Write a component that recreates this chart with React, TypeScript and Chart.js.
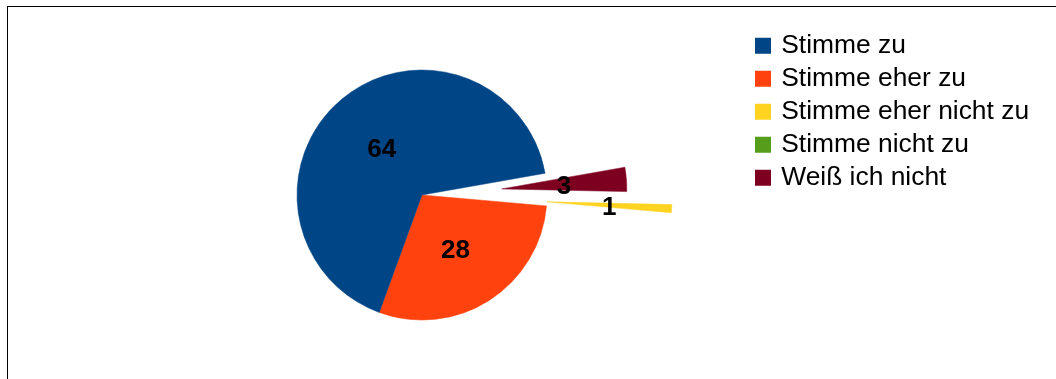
import React, { useEffect, useRef } from "react";
import { Chart, ArcElement, PieController, Legend } from "chart.js";

Chart.register(ArcElement, PieController, Legend);

// ---- data ----
const categories = [
  "Stimme zu",
  "Stimme eher zu",
  "Stimme eher nicht zu",
  "Stimme nicht zu",
  "Weiß ich nicht",
];
const values = [64, 28, 1, 0, 3];

// ---- styles ----
const colors = ["#004586", "#ff420e", "#ffd320", "#579d1c", "#7e0021"];
const explode = [0, 0, 1.0, 0, 0.64]; // fraction of radius a slice is pulled out

const W = 1056;
const H = 379;
const FONT = "'Liberation Sans', Arial, sans-serif";
const legendFontSize = 26.4;
const legendBox = 10; // fill size; a 6px stroke makes it 16px visually
const legendStroke = 6;
const legendPad = 6.6;
const legendItemX = 758;
const pieCenterX = 422;
const pieRadius = 125;

const explodePlugin = {
  id: "explodeSlices",
  afterDatasetsUpdate(chart: any) {
    const meta = chart.getDatasetMeta(0);
    const ex = chart.data.datasets[0].explode || [];
    meta.data.forEach((arc: any, i: number) => {
      const f = ex[i];
      if (!f) return;
      const mid = (arc.startAngle + arc.endAngle) / 2;
      const d = f * arc.outerRadius;
      arc.x += Math.cos(mid) * d;
      arc.y += Math.sin(mid) * d;
    });
  },
};

const valueLabels = {
  id: "valueLabels",
  afterDatasetsDraw(chart: any) {
    const ctx = chart.ctx;
    const meta = chart.getDatasetMeta(0);
    const data = chart.data.datasets[0].data;
    ctx.save();
    ctx.font = `bold 26px ${FONT}`;
    ctx.fillStyle = "#000";
    ctx.textAlign = "center";
    ctx.textBaseline = "alphabetic";
    meta.data.forEach((arc: any, i: number) => {
      const v = data[i];
      if (!v) return;
      const p = arc.getCenterPoint();
      ctx.fillText(String(v), p.x, p.y + 10);
    });
    ctx.restore();
  },
};

export default function App() {
  const ref = useRef<HTMLCanvasElement | null>(null);

  useEffect(() => {
    if (!ref.current) return;
    const m = document.createElement("canvas").getContext("2d")!;
    m.font = `${legendFontSize}px ${FONT}`;
    const textW = Math.max(...categories.map((c) => m.measureText(c).width));
    const legendWidth = legendPad + legendBox + legendFontSize / 2 + textW + 10;
    const legendLeft = legendItemX - legendPad;
    const padRight = W - legendLeft - legendWidth;
    const padLeft = 2 * pieCenterX - legendLeft;

    // Chart.js draws clockwise; the reference runs counter-clockwise, so reverse.
    const rLabels = [...categories].reverse();
    const rValues = [...values].reverse();
    const rColors = [...colors].reverse();
    const rExplode = [...explode].reverse();

    const chart = new Chart(ref.current, {
      type: "pie",
      data: {
        labels: rLabels,
        datasets: [
          {
            data: rValues,
            backgroundColor: rColors,
            borderColor: rColors,
            borderWidth: 0.5,
            explode: rExplode,
          } as any,
        ],
      },
      options: {
        responsive: false,
        animation: false,
        events: [],
        rotation: 80,
        radius: pieRadius,
        layout: {
          padding: { left: padLeft, right: padRight, top: 26, bottom: 15 },
        },
        plugins: {
          tooltip: { enabled: false },
          legend: {
            position: "right",
            align: "start",
            reverse: true,
            labels: {
              boxWidth: legendBox,
              boxHeight: legendBox,
              padding: legendPad,
              color: "#000",
              font: { family: FONT, size: legendFontSize },
              generateLabels(c: any) {
                const ds = c.data.datasets[0];
                return c.data.labels.map((text: string, i: number) => ({
                  text,
                  fillStyle: ds.backgroundColor[i],
                  strokeStyle: ds.backgroundColor[i],
                  lineWidth: legendStroke,
                  lineJoin: "miter",
                  fontColor: "#000",
                  hidden: false,
                  index: i,
                }));
              },
            },
          },
        },
      } as any,
      plugins: [explodePlugin, valueLabels],
    });
    return () => chart.destroy();
  }, []);

  return (
    <div
      style={{
        position: "fixed",
        left: 0,
        top: 0,
        width: W,
        height: H,
        overflow: "hidden",
        background: "#fff",
      }}
    >
      <div
        style={{
          position: "absolute",
          left: 7,
          top: 6,
          width: W,
          height: H,
          borderTop: "1px solid #000",
          borderLeft: "1px solid #000",
        }}
      />
      <canvas
        ref={ref}
        width={W}
        height={H}
        style={{ position: "absolute", left: 0, top: 0, width: W, height: H }}
      />
    </div>
  );
}
